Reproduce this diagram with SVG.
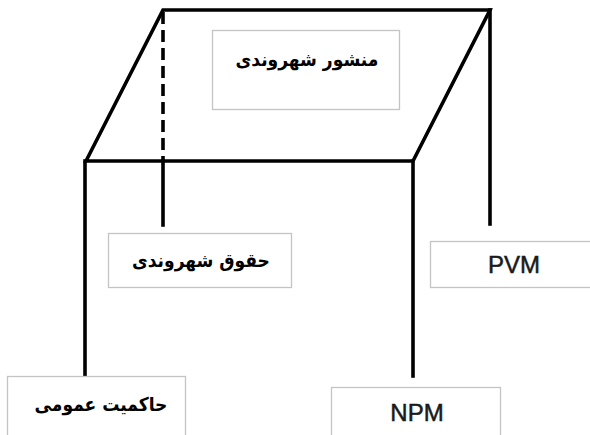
<svg xmlns="http://www.w3.org/2000/svg" width="590" height="435" viewBox="0 0 590 435">
<style>
.edge{stroke:#000;stroke-width:3.6;fill:none;stroke-linecap:square;stroke-linejoin:miter}
.dash{stroke:#000;stroke-width:3.6;fill:none;stroke-dasharray:12 6}
.box{fill:#fff;stroke:#c4c4c4;stroke-width:1.3}
.fa{font-family:"DejaVu Sans Condensed","DejaVu Sans",sans-serif;font-weight:bold;font-size:19px;fill:#000;text-anchor:middle}
.en{font-family:"Liberation Sans",Arial,sans-serif;font-size:24px;fill:#1a1a1a;text-anchor:middle;stroke:#1a1a1a;stroke-width:0.5}
</style>
<rect width="590" height="435" fill="#fff"/>
<g id="connectors">
<path class="edge" d="M86,161 L163,10 L490,10 L413,161 Z"/>
<line class="dash" x1="163" y1="12" x2="163" y2="161"/>
<line class="edge" x1="163" y1="161" x2="163" y2="225"/>
<line class="edge" x1="490" y1="10" x2="490" y2="224"/>
<line class="edge" x1="85" y1="161" x2="85" y2="376"/>
<line class="edge" x1="413" y1="161" x2="413" y2="376"/>
</g>
<g id="node-manshour">
<rect class="box" x="212.5" y="30.5" width="187" height="79"/>
<text class="fa" x="307" y="66" direction="rtl">منشور شهروندی</text>
</g>
<g id="node-hoghough">
<rect class="box" x="108.5" y="233.5" width="183" height="54"/>
<text class="fa" x="201" y="267" direction="rtl">حقوق شهروندی</text>
</g>
<g id="node-pvm">
<rect class="box" x="430.5" y="241.5" width="165" height="46"/>
<text class="en" x="514" y="273">PVM</text>
</g>
<g id="node-hakemiyat">
<rect class="box" x="7.5" y="376.5" width="178" height="62"/>
<text class="fa" x="101" y="411" direction="rtl">حاکمیت عمومی</text>
</g>
<g id="node-npm">
<rect class="box" x="331.5" y="387.5" width="169" height="52"/>
<text class="en" x="417" y="421">NPM</text>
</g>
</svg>
